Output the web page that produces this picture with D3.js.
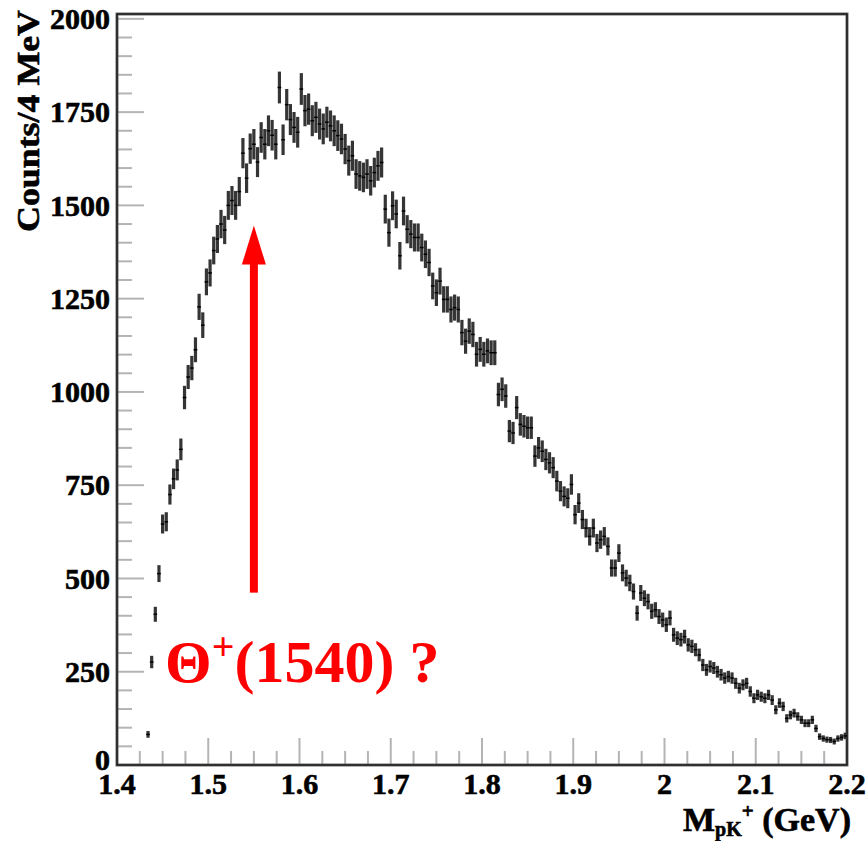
<!DOCTYPE html>
<html>
<head>
<meta charset="utf-8">
<script src="https://cdn.jsdelivr.net/npm/d3@7"></script>
<style>
	body { margin: 0; background: #fff; }
	svg { display: block; }
	.tick-label { font-family: "Liberation Serif", "DejaVu Serif", serif; font-weight: bold; font-size: 30px; fill: #000; stroke: #000; stroke-width: 0.6px; }
</style>
</head>
<body>
<div id="chart"></div>
<script>

// histogram: 4 MeV bins from 1.4 GeV, first filled bin is #8
var binStart = 1.4, binWidth = 0.004, firstBin = 8;
var counts = [
	82,276,404,513,646,652,725,767,791,846,
	985,1040,1064,1113,1228,1179,1295,1319,1379,1410,
	1450,1434,1500,1513,1500,1537,1640,1573,1652,1664,
	1616,1682,1664,1700,1688,1664,1816,1676,1770,1730,
	1709,1696,1812,1754,1758,1727,1736,1718,1705,1723,
	1713,1700,1687,1678,1651,1620,1633,1584,1579,1575,
	1584,1566,1588,1606,1615,1490,1427,1499,1477,1365,
	1485,1436,1423,1414,1414,1387,1369,1347,1284,1266,
	1297,1248,1248,1221,1226,1221,1159,1136,1163,1154,
	1101,1114,1101,1110,1105,1105,993,1007,989,895,
	890,958,913,908,904,904,828,850,841,819,
	810,797,761,734,720,715,752,671,702,658,
	635,613,635,595,604,613,586,528,528,568,
	515,501,488,465,407,461,447,438,412,416,
	398,389,376,394,349,340,336,344,322,318,
	309,295,268,255,264,260,250,242,233,237,
	233,219,206,215,219,197,179,188,183,179,
	188,174,148,166,157,125,134,139,130,121,
	112,112,121,98,76,71,68,67,63,71,
	74,78
];

var xTicks = [1.4, 1.5, 1.6, 1.7, 1.8, 1.9, 2.0, 2.1, 2.2];
var xTickLabels = ["1.4", "1.5", "1.6", "1.7", "1.8", "1.9", "2", "2.1", "2.2"];
var yTicks = [0, 250, 500, 750, 1000, 1250, 1500, 1750, 2000];

// annotation (arrow at the expected mass)
var arrowMass = 1.55, arrowFrom = 462, arrowTo = 1446;
var labelMass = 1.4526, labelCount = 223;

var width = 868, height = 841;
var margin = {top: 14, right: 21, bottom: 76, left: 117};

var svg = d3.select("#chart")
	.append("svg")
	.attr("width", width)
	.attr("height", height);

var x = d3.scaleLinear().domain([1.4, 2.2]).range([margin.left, width - margin.right]);
var y = d3.scaleLinear().domain([0, 2013]).range([height - margin.bottom, margin.top]);

var x0 = x.range()[0], x1 = x.range()[1], y0 = y.range()[0], y1 = y.range()[1];

// minor + major ticks, drawn inside the frame like ROOT does
var tickColor = "#b4b4b4";
var xMinor = d3.range(1.4, 2.2001, 0.025);
svg.append("g").selectAll("line")
	.data(xMinor)
	.enter().append("line")
	.attr("x1", function(d){ return x(d); })
	.attr("x2", function(d){ return x(d); })
	.attr("y1", y0)
	.attr("y2", function(d, i){ return (i % 4 == 0) ? y0 - 27 : y0 - 14; })
	.attr("stroke", tickColor)
	.attr("stroke-width", 2);

var yMinor = d3.range(0, 2001, 50);
svg.append("g").selectAll("line")
	.data(yMinor)
	.enter().append("line")
	.attr("y1", function(d){ return y(d); })
	.attr("y2", function(d){ return y(d); })
	.attr("x1", x0)
	.attr("x2", function(d, i){ return (i % 5 == 0) ? x0 + 27 : x0 + 15; })
	.attr("stroke", tickColor)
	.attr("stroke-width", 2);

// frame
svg.append("rect")
	.attr("x", x0)
	.attr("y", y1)
	.attr("width", x1 - x0)
	.attr("height", y0 - y1)
	.attr("fill", "none")
	.attr("stroke", "#6a6a6a")
	.attr("stroke-width", 3);
svg.append("rect")
	.attr("x", x0)
	.attr("y", y1)
	.attr("width", x1 - x0)
	.attr("height", y0 - y1)
	.attr("fill", "none")
	.attr("stroke", "#111")
	.attr("stroke-width", 1.3);

// tick labels
svg.append("g").selectAll("text")
	.data(xTicks)
	.enter().append("text")
	.attr("class", "tick-label")
	.attr("x", function(d){ return x(d); })
	.attr("y", y0 + 29)
	.attr("text-anchor", "middle")
	.text(function(d, i){ return xTickLabels[i]; });

svg.append("g").selectAll("text")
	.data(yTicks)
	.enter().append("text")
	.attr("class", "tick-label")
	.attr("x", x0 - 7)
	.attr("y", function(d){ return d == 0 ? y(d) - 5 : y(d); })
	.attr("dy", "0.34em")
	.attr("text-anchor", "end")
	.text(function(d){ return d; });

// axis titles
svg.append("text")
	.attr("class", "tick-label")
	.attr("transform", "translate(39," + 121 + ") rotate(-90)")
	.attr("text-anchor", "middle")
	.attr("textLength", 222)
	.attr("lengthAdjust", "spacingAndGlyphs")
	.style("font-size", "31px")
	.text("Counts/4 MeV");

var xt = svg.append("text")
	.attr("class", "tick-label")
	.attr("x", 683)
	.attr("y", 831)
	.style("font-size", "34px");
xt.append("tspan").text("M");
xt.append("tspan").attr("dy", 5).style("font-size", "20px").text("pK");
xt.append("tspan").attr("dy", -18).style("font-size", "21px").text("+");
xt.append("tspan").attr("dy", 13).text(" (GeV)");

// data points with sqrt(N) error bars (ROOT default for a histogram)
var bins = counts.map(function(c, i){
	var lo = binStart + (firstBin + i) * binWidth;
	return {lo: lo, hi: lo + binWidth, mid: lo + binWidth / 2, n: c, err: Math.sqrt(c)};
});

var pts = svg.append("g").attr("class", "points");
pts.selectAll(".ebar")
	.data(bins)
	.enter().append("line")
	.attr("class", "ebar")
	.attr("x1", function(d){ return x(d.mid); })
	.attr("x2", function(d){ return x(d.mid); })
	.attr("y1", function(d){ return y(d.n - d.err); })
	.attr("y2", function(d){ return y(d.n + d.err); })
	.attr("stroke", "#353535")
	.attr("stroke-width", 3.2);
pts.selectAll(".hbar")
	.data(bins)
	.enter().append("line")
	.attr("class", "hbar")
	.attr("x1", function(d){ return x(d.lo); })
	.attr("x2", function(d){ return x(d.hi); })
	.attr("y1", function(d){ return y(d.n); })
	.attr("y2", function(d){ return y(d.n); })
	.attr("stroke", "#000")
	.attr("stroke-width", 1.5);

// red arrow + label
var red = "#ff0000";
var ax = x(arrowMass), tipY = y(arrowTo);
svg.append("rect")
	.attr("x", ax - 4)
	.attr("y", tipY + 36)
	.attr("width", 8)
	.attr("height", y(arrowFrom) - tipY - 36)
	.attr("fill", red);
svg.append("path")
	.attr("d", "M" + ax + "," + tipY + "L" + (ax + 12) + "," + (tipY + 39) + "L" + (ax - 12) + "," + (tipY + 39) + "Z")
	.attr("fill", red);

var lab = svg.append("text")
	.attr("x", x(labelMass))
	.attr("y", y(labelCount))
	.style("font-family", "'Liberation Serif', 'DejaVu Serif', serif")
	.style("font-weight", "bold")
	.style("font-size", "60px")
	.attr("fill", red);
lab.append("tspan").text("Θ");
lab.append("tspan").attr("dy", -22).style("font-size", "40px").text("+");
lab.append("tspan").attr("dy", 22).text("(1540) ?");

</script>
</body>
</html>
